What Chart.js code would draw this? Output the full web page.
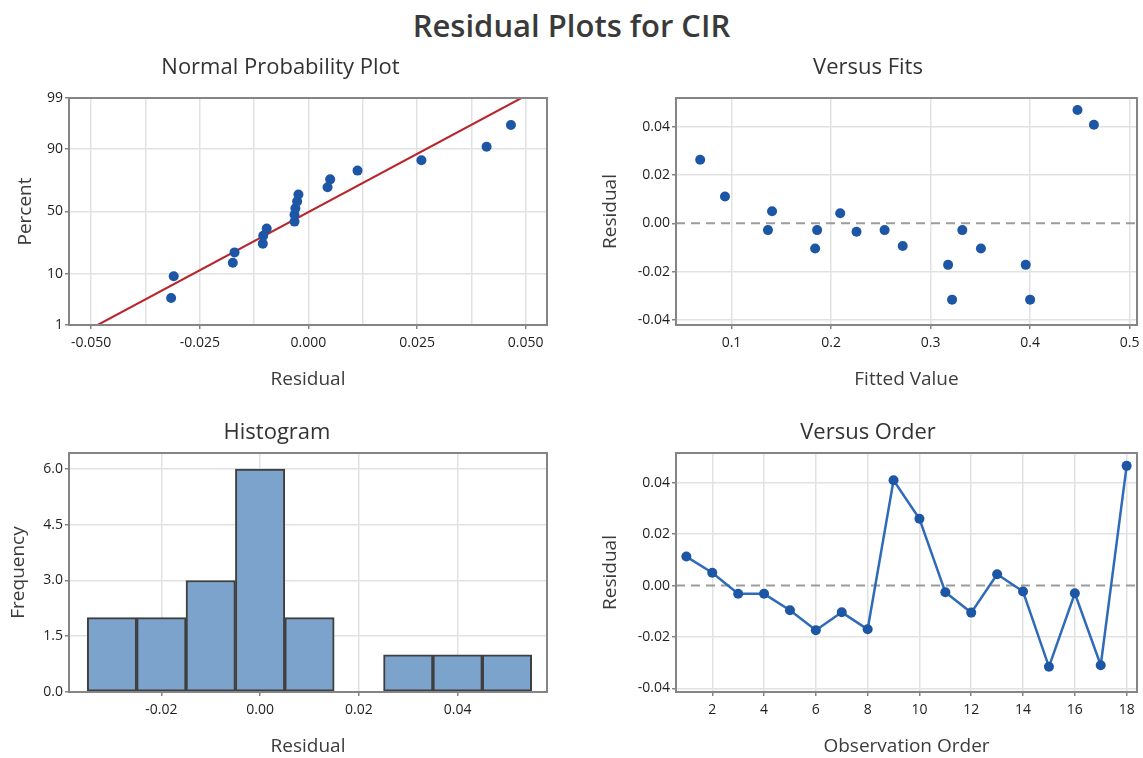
<!DOCTYPE html>
<html><head><meta charset="utf-8">
<script src="https://cdn.jsdelivr.net/npm/chart.js@4.4.1/dist/chart.umd.min.js"></script>
<style>
html,body{margin:0;padding:0;background:#fff;}
body{width:1143px;height:758px;position:relative;overflow:hidden;font-family:'Open Sans',sans-serif;}
#main{position:absolute;left:0;width:1143px;top:6px;text-align:center;font-size:31px;font-weight:600;color:#3a3a3a;line-height:38px;}
canvas.panel{position:absolute;}
</style></head><body>
<div id="main">Residual Plots for CIR</div>
<canvas id="c1" class="panel"></canvas>
<canvas id="c2" class="panel"></canvas>
<canvas id="c3" class="panel"></canvas>
<canvas id="c4" class="panel"></canvas>
<script>
// ---------- DATA ----------
const observationOrder = [1,2,3,4,5,6,7,8,9,10,11,12,13,14,15,16,17,18];
const residuals = [0.0113, 0.0050, -0.0032, -0.0032, -0.0096, -0.0174, -0.0104, -0.0170, 0.0410,
                   0.0260, -0.0026, -0.0105, 0.0044, -0.0023, -0.0316, -0.0030, -0.0310, 0.0466];
const normalPercents = [3.8, 9.2, 14.7, 20.1, 25.5, 31.0, 36.4, 41.8, 47.3, 52.7, 58.2, 63.6, 69.0, 74.5, 79.9, 85.3, 90.8, 96.2];
const fitLineResidual = [-0.0485, 0.0490];
const fitLinePercent = [1, 99];
const fittedValues = [0.0685, 0.0934, 0.1366, 0.1407, 0.1840, 0.1860, 0.2092, 0.2256, 0.2538,
                      0.2720, 0.3176, 0.3216, 0.3319, 0.3506, 0.3956, 0.4000, 0.4476, 0.4641];
const fitResiduals = [0.0263, 0.0111, -0.0028, 0.0050, -0.0104, -0.0028, 0.0042, -0.0035, -0.0028,
                      -0.0094, -0.0172, -0.0316, -0.0028, -0.0104, -0.0172, -0.0316, 0.0469, 0.0408];
const binMidpoints = [-0.03, -0.02, -0.01, 0.00, 0.01, 0.02, 0.03, 0.04, 0.05];
const binCounts = [2, 2, 3, 6, 2, 0, 1, 1, 1];
// tick values
const normXMajor = [-0.05, -0.025, 0, 0.025, 0.05];
const normXMinor = [-0.0375, -0.0125, 0.0125, 0.0375];
const probTicks = [1, 10, 50, 90, 99];
const fitsXTicks = [0.1, 0.2, 0.3, 0.4, 0.5];
const residTicks = [-0.04, -0.02, 0, 0.02, 0.04];
const histXTicks = [-0.02, 0, 0.02, 0.04];
const freqTicks = [0, 1.5, 3, 4.5, 6];
const orderTicks = [2, 4, 6, 8, 10, 12, 14, 16, 18];

// ---------- STYLE ----------
const FAM = "'Open Sans', sans-serif";
const TXT = '#333333';
const GRID = '#e2e2e2';
const FRAME = '#858585';
const DOT = '#1d56a5';
const TITLE_SIZE = 22, AXIS_SIZE = 19, TICK_SIZE = 14;
Chart.defaults.font.family = FAM;
Chart.defaults.color = TXT;

function probit(p){
  const a=[-3.969683028665376e+01,2.209460984245205e+02,-2.759285104469687e+02,1.383577518672690e+02,-3.066479806614716e+01,2.506628277459239e+00];
  const b=[-5.447609879822406e+01,1.615858368580409e+02,-1.556989798598866e+02,6.680131188771972e+01,-1.328068155288572e+01];
  const c=[-7.784894002430293e-03,-3.223964580411365e-01,-2.400758277161838e+00,-2.549732539343734e+00,4.374664141464968e+00,2.938163982698783e+00];
  const d=[7.784695709041462e-03,3.224671290700398e-01,2.445134137142996e+00,3.754408661907416e+00];
  const pl=0.02425, ph=1-pl; let q,r;
  if(p<pl){q=Math.sqrt(-2*Math.log(p));return (((((c[0]*q+c[1])*q+c[2])*q+c[3])*q+c[4])*q+c[5])/((((d[0]*q+d[1])*q+d[2])*q+d[3])*q+1);}
  if(p<=ph){q=p-0.5;r=q*q;return (((((a[0]*r+a[1])*r+a[2])*r+a[3])*r+a[4])*r+a[5])*q/(((((b[0]*r+b[1])*r+b[2])*r+b[3])*r+b[4])*r+1);}
  q=Math.sqrt(-2*Math.log(1-p));return -(((((c[0]*q+c[1])*q+c[2])*q+c[3])*q+c[4])*q+c[5])/((((d[0]*q+d[1])*q+d[2])*q+d[3])*q+1);
}

const framePlugin = {
  id: 'frame',
  afterDatasetsDraw(chart){
    const {ctx, chartArea:a} = chart;
    ctx.save(); ctx.strokeStyle = FRAME; ctx.lineWidth = 2;
    ctx.strokeRect(a.left, a.top, a.right-a.left, a.bottom-a.top);
    ctx.restore();
  }
};
const zeroLinePlugin = {
  id: 'zeroLine',
  defaults: {display:false},
  beforeDatasetsDraw(chart, args, opts){
    if(!opts.display) return;
    const {ctx, chartArea:a} = chart;
    const y = chart.scales.y.getPixelForValue(0);
    ctx.save(); ctx.strokeStyle = '#9c9c9c'; ctx.lineWidth = 2; ctx.setLineDash([9,6]);
    ctx.beginPath(); ctx.moveTo(a.left, y); ctx.lineTo(a.right, y); ctx.stroke();
    ctx.restore();
  }
};
Chart.register(framePlugin, zeroLinePlugin);

function setTicks(values){ return function(scale){ scale.ticks = values.map(v => ({value:v})); }; }

function makePanel(id, g, spec){
  const tLH = TITLE_SIZE*1.2, aLH = AXIS_SIZE*1.2;
  const left = Math.round(g.yTitleX - aLH/2);
  const top = Math.round(g.titleY - tLH/2);
  const yW = g.L - left;
  const right = g.R + yW;
  const bottom = Math.round(g.xTitleY + aLH/2);
  const W = right - left, H = bottom - top;
  const cv = document.getElementById(id);
  cv.width = W; cv.height = H;
  cv.style.left = left+'px'; cv.style.top = top+'px';
  cv.style.width = W+'px'; cv.style.height = H+'px';
  const gridBase = {color: GRID, lineWidth: 1.5, tickLength: 4, tickColor: FRAME, drawTicks: true};
  return new Chart(cv, {
    type: spec.type,
    data: {datasets: spec.datasets},
    options: {
      responsive: false, animation: false, devicePixelRatio: 1,
      layout: {padding: {left: 0, right: yW, top: 0, bottom: 0}},
      plugins: {
        legend: {display: false}, tooltip: {enabled: false},
        title: {display: true, text: spec.title, color: TXT, font: {family: FAM, size: TITLE_SIZE, weight: 'normal'},
                padding: {top: 0, bottom: g.T - top - tLH}},
        zeroLine: {display: !!spec.zeroLine}
      },
      scales: {
        x: {
          type: 'linear', min: spec.xMin, max: spec.xMax, offset: false,
          afterFit(s){ s.height = bottom - g.B; },
          afterBuildTicks: setTicks(spec.xTicks),
          title: {display: true, text: spec.xTitle, color: '#3c3c3c', font: {family: FAM, size: AXIS_SIZE}, padding: 0},
          ticks: {font: {family: FAM, size: TICK_SIZE}, color: '#1e1e1e', padding: 6, maxRotation: 0, autoSkip: false, callback: spec.xFmt},
          grid: Object.assign({}, gridBase, {offset: false}, spec.xGrid || {}),
          border: {display: false}
        },
        y: {
          type: 'linear', min: spec.yMin, max: spec.yMax,
          afterFit(s){ s.width = yW; },
          afterBuildTicks: setTicks(spec.yTicks),
          title: {display: true, text: spec.yTitle, color: '#3c3c3c', font: {family: FAM, size: AXIS_SIZE}, padding: 0},
          ticks: {font: {family: FAM, size: TICK_SIZE}, color: '#1e1e1e', padding: 2, autoSkip: false, callback: spec.yFmt},
          grid: Object.assign({}, gridBase, spec.yGrid || {}),
          border: {display: false}
        }
      }
    }
  });
}

const isMajor = v => normXMajor.some(m => Math.abs(m - v) < 1e-9);

// Panel 1: Normal Probability Plot
const sortedResiduals = residuals.slice().sort((a,b) => a-b);
makePanel('c1', {L:69, R:547, T:98, B:325, titleY:68, xTitleY:380, yTitleX:25}, {
  type: 'scatter', title: 'Normal Probability Plot', xTitle: 'Residual', yTitle: 'Percent',
  xMin: -0.0551, xMax: 0.0549, yMin: probit(0.01), yMax: probit(0.99),
  xTicks: normXMajor.concat(normXMinor).sort((a,b)=>a-b),
  yTicks: probTicks.map(p => probit(p/100)),
  xFmt: v => isMajor(v) ? v.toFixed(3) : '',
  yFmt: (v, i) => String(probTicks[i]),
  xGrid: {tickColor: ctx => (ctx.tick && isMajor(ctx.tick.value)) ? FRAME : 'rgba(0,0,0,0)'},
  datasets: [
    {data: sortedResiduals.map((r,i) => ({x: r, y: probit(normalPercents[i]/100)})),
     pointRadius: 5, pointBackgroundColor: DOT, pointBorderWidth: 0, showLine: false, order: 0},
    {data: fitLineResidual.map((r,i) => ({x: r, y: probit(fitLinePercent[i]/100)})),
     showLine: true, borderColor: '#b8262c', borderWidth: 2, pointRadius: 0, order: 1}
  ]
});

// Panel 2: Versus Fits
makePanel('c2', {L:676, R:1137, T:98, B:325, titleY:68, xTitleY:380, yTitleX:610}, {
  type: 'scatter', title: 'Versus Fits', xTitle: 'Fitted Value', yTitle: 'Residual', zeroLine: true,
  xMin: 0.0442, xMax: 0.5074, yMin: -0.0421, yMax: 0.0519,
  xTicks: fitsXTicks, yTicks: residTicks,
  xFmt: v => v.toFixed(1), yFmt: v => v.toFixed(2),
  yGrid: {color: ctx => (ctx.tick && Math.abs(ctx.tick.value) < 1e-9) ? 'rgba(0,0,0,0)' : GRID},
  datasets: [
    {data: fittedValues.map((f,i) => ({x: f, y: fitResiduals[i]})),
     pointRadius: 5, pointBackgroundColor: DOT, pointBorderWidth: 0}
  ]
});

// Panel 3: Histogram
makePanel('c3', {L:69, R:547, T:453, B:692, titleY:433, xTitleY:747, yTitleX:18}, {
  type: 'bar', title: 'Histogram', xTitle: 'Residual', yTitle: 'Frequency',
  xMin: -0.0387, xMax: 0.0581, yMin: 0, yMax: 6.43,
  xTicks: histXTicks, yTicks: freqTicks,
  xFmt: v => v.toFixed(2), yFmt: v => v.toFixed(1),
  datasets: [
    {data: binMidpoints.map((m,i) => ({x: m, y: binCounts[i]})),
     backgroundColor: '#7ca3cb', borderColor: '#3f3f3f', borderWidth: 2, borderSkipped: false,
     barPercentage: 1, categoryPercentage: 1, grouped: false}
  ]
});

// Panel 4: Versus Order
makePanel('c4', {L:676, R:1137, T:453, B:692, titleY:433, xTitleY:747, yTitleX:610}, {
  type: 'line', title: 'Versus Order', xTitle: 'Observation Order', yTitle: 'Residual', zeroLine: true,
  xMin: 0.6, xMax: 18.4, yMin: -0.0414, yMax: 0.0516,
  xTicks: orderTicks, yTicks: residTicks,
  xFmt: v => String(v), yFmt: v => v.toFixed(2),
  yGrid: {color: ctx => (ctx.tick && Math.abs(ctx.tick.value) < 1e-9) ? 'rgba(0,0,0,0)' : GRID},
  datasets: [
    {data: observationOrder.map((o,i) => ({x: o, y: residuals[i]})),
     borderColor: '#2f6bb8', borderWidth: 2.5, tension: 0,
     pointRadius: 5, pointBackgroundColor: DOT, pointBorderWidth: 0}
  ]
});
</script>
</body></html>
